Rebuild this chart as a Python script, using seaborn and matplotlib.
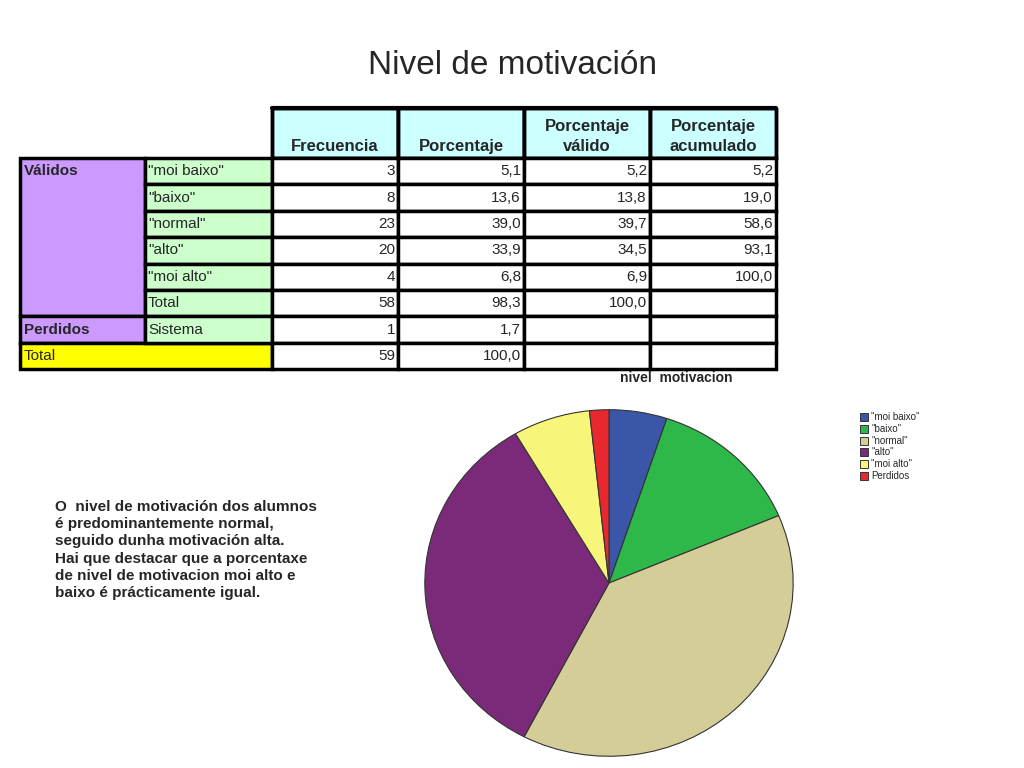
import matplotlib
matplotlib.use("Agg")
import matplotlib.pyplot as plt
from matplotlib.patches import Rectangle
import seaborn as sns

sns.set_theme(style="white")
plt.rcParams["font.family"] = "Liberation Sans"

categories = ['"moi baixo"', '"baixo"', '"normal"', '"alto"', '"moi alto"', 'Perdidos']
frecuencia = [3, 8, 23, 20, 4, 1]
colors = ["#3b56a8", "#2eb84a", "#d4cd98", "#7b2a7a", "#f7f57a", "#e8282e"]

headers = ["Frecuencia", "Porcentaje", "Porcentaje\nválido", "Porcentaje\nacumulado"]
row_groups = ["Válidos", "", "", "", "", "", "Perdidos", "Total"]
row_labels = ['"moi baixo"', '"baixo"', '"normal"', '"alto"', '"moi alto"', "Total", "Sistema", ""]
col_frec = ["3", "8", "23", "20", "4", "58", "1", "59"]
col_pct = ["5,1", "13,6", "39,0", "33,9", "6,8", "98,3", "1,7", "100,0"]
col_valid = ["5,2", "13,8", "39,7", "34,5", "6,9", "100,0", "", ""]
col_acum = ["5,2", "19,0", "58,6", "93,1", "100,0", "", "", ""]

fig = plt.figure(figsize=(10.24, 7.68), dpi=100)
bg = fig.add_axes([0, 0, 1, 1])
bg.set_xlim(0, 1024); bg.set_ylim(768, 0); bg.axis("off")

bg.text(512, 66, "Nivel de motivación", ha="center", va="center", fontsize=24)

# table
xs = [20, 145, 272, 398, 524, 650, 776]
y0, hh, rh = 108, 50, 26.4
for j, h in enumerate(headers):
    x = xs[2 + j]
    bg.add_patch(Rectangle((x, y0), xs[3 + j] - x, hh, fc="#ccffff", ec="black", lw=2.5))
    bg.text((x + xs[3 + j]) / 2, y0 + hh - 4, h, ha="center", va="bottom",
            fontsize=12, fontweight="bold", linespacing=1.4)
    bg.add_patch(Rectangle((x, y0), xs[3 + j] - x, hh, fc="none", ec="black", lw=2.5, clip_on=True))
bg.add_patch(Rectangle((0, 90), 1024, 18, fc="white", ec="none"))
bg.plot([272, 776], [108, 108], color="black", lw=3)

yb = y0 + hh
# purple blocks
bg.add_patch(Rectangle((20, yb), 125, 6 * rh, fc="#cc99ff", ec="black", lw=2.5))
bg.add_patch(Rectangle((20, yb + 6 * rh), 125, rh, fc="#cc99ff", ec="black", lw=2.5))
bg.add_patch(Rectangle((20, yb + 7 * rh), 252, rh, fc="#ffff00", ec="black", lw=2.5))
bg.text(24, yb + rh / 2, "Válidos", va="center", fontsize=11, fontweight="bold")
bg.text(24, yb + 6.5 * rh, "Perdidos", va="center", fontsize=11, fontweight="bold")
bg.text(24, yb + 7.5 * rh, "Total", va="center", fontsize=11)
cols = [col_frec, col_pct, col_valid, col_acum]
for i in range(8):
    y = yb + i * rh
    if i < 7:
        bg.add_patch(Rectangle((145, y), 127, rh, fc="#ccffcc", ec="black", lw=2.5))
        bg.text(148, y + rh / 2, row_labels[i], va="center", fontsize=11)
    for j, c in enumerate(cols):
        bg.add_patch(Rectangle((xs[2 + j], y), xs[3 + j] - xs[2 + j], rh, fc="white", ec="black", lw=2.5))
        bg.text(xs[3 + j] - 3, y + rh / 2, c[i], ha="right", va="center", fontsize=11)

bg.text(676, 378, "nivel  motivacion", ha="center", va="center", fontsize=10, fontweight="bold")

bg.text(55, 550, "O  nivel de motivación dos alumnos\né predominantemente normal,\nseguido dunha motivación alta.\nHai que destacar que a porcentaxe\nde nivel de motivacion moi alto e\nbaixo é prácticamente igual.",
        va="center", ha="left", fontsize=11, fontweight="bold", linespacing=1.3)

# pie
pax = fig.add_axes([423 / 1024, 10 / 768, 372 / 1024, 350 / 768])
pax.pie(frecuencia, colors=colors, startangle=90, counterclock=False,
        wedgeprops=dict(edgecolor="#333333", linewidth=0.8))
pax.set_aspect("auto")
pax.set_xlim(-1.01, 1.01); pax.set_ylim(-1.01, 1.01)

# legend
for k, (lab, c) in enumerate(zip(categories, colors)):
    y = 417 + k * 11.8
    bg.add_patch(Rectangle((860, y - 4), 8, 8, fc=c, ec="#333333", lw=0.7))
    bg.text(871, y, lab, va="center", fontsize=7)

fig.savefig("out.png", dpi=100)
